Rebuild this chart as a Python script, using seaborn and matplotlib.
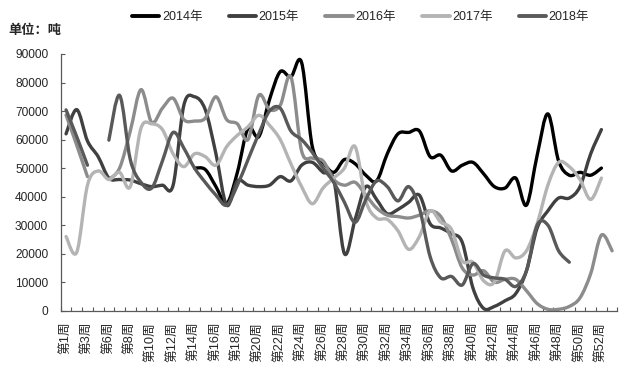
import numpy as np
import pandas as pd
import matplotlib
matplotlib.use("Agg")
import matplotlib.pyplot as plt
from matplotlib.ticker import MultipleLocator, FixedLocator
from matplotlib.path import Path
from matplotlib.patches import PathPatch
import seaborn as sns

nan = np.nan

# weeks on the category axis (week 5 is missing, one extra week at the end)
weeks = [1, 2, 3, 4] + list(range(6, 54))
week_labels = ["第%d周" % w for w in weeks]

years = ["2014年", "2015年", "2016年", "2017年", "2018年"]
colors = ["#000000", "#404040", "#8c8c8c", "#b4b4b4", "#595959"]

v2014 = [nan, nan, nan, nan, nan, nan, nan, nan, nan, nan, nan, nan,
         50000, 49500, 43500, 37500, 48500, 64000, 61000, 74000, 83800, 82000,
         87000, 57500, 52000, 48500, 53000, 51500, 47500, 45500, 55000, 62000,
         62500, 63000, 54000, 54500, 49000, 51000, 52000, 48000, 43500, 43000,
         46500, 37000, 54500, 69000, 52500, 47500, 48500, 47500, 50000, nan]
v2015 = [62000, 70500, 59500, 54000, 46500, 46000, 45800, 44500, 43500, 44000,
         44000, 72000, 75000, 70500, 55000, 37000, 45500, 44000, 43500, 44000,
         47000, 45500, 51000, 52000, 48500, 46000, 20000, 32000, 43500, 39000,
         34000, 35500, 38000, 40500, 30500, 29000, 27000, 24000, 8000, 800,
         1500, 3500, 6000, 14000, 29000, 35000, 39500, 39500, 43500, 55000,
         63500, nan]
v2016 = [68600, 58000, 47000, nan, 46000, 50000, 63000, 77500, 66000, 71000,
         74500, 67000, 66500, 67500, 75000, 67000, 65500, 60000, 75500, 70500,
         72000, 82000, 56000, 53500, 52500, 46000, 44000, 45000, 40500, 36000,
         33500, 33000, 32500, 33500, 35000, 33000, 25000, 15000, 12500, 14000,
         10000, 11000, 11000, 7000, 2500, 500, 500, 1500, 4500, 13000,
         26500, 21000]
v2017 = [26000, 20500, 44000, 49000, 46000, 48500, 43500, 64000, 65500, 63500,
         55000, 50500, 55000, 54000, 51000, 57500, 61500, 64500, 68500, 65000,
         60000, 51500, 43500, 37500, 43000, 46500, 50000, 57500, 38500, 32500,
         32000, 28000, 21500, 26000, 35000, 31000, 28500, 17500, 17000, 10500,
         10000, 21000, 18500, 21000, 30500, 44000, 52000, 50500, 46000, 39000,
         46500, nan]
v2018 = [70400, 61000, 51000, nan, 59800, 75500, 53000, 45000, 43000, 52500,
         62500, 57000, 50000, 45000, 40500, 37000, 44000, 53000, 62000, 70000,
         71000, 63000, 60000, 55500, 50000, 45000, 38000, 31000, 39000, 45500,
         43500, 38500, 43500, 36000, 19000, 11500, 12000, 9000, 16500, 12500,
         11500, 11000, 8500, 14000, 30000, 30000, 21000, 17000, nan, nan,
         nan, nan]

series = [v2014, v2015, v2016, v2017, v2018]

# long table; a new segment starts after every gap so lines break there
rows = []
for year, vals in zip(years, series):
    seg = 0
    for i, v in enumerate(vals):
        if np.isnan(v):
            seg += 1
            continue
        rows.append({"pos": i, "value": v, "year": year, "seg": "%s-%d" % (year, seg)})
df = pd.DataFrame(rows)


def smooth_path(xy):
    # excel style smoothed line: cubic bezier through every point
    pts = np.vstack([xy[:1], xy, xy[-1:]])
    verts = [tuple(xy[0])]
    codes = [Path.MOVETO]
    for k in range(1, len(pts) - 2):
        p0, p1, p2, p3 = pts[k - 1], pts[k], pts[k + 1], pts[k + 2]
        c1 = p1 + (p2 - p0) / 6.0
        c2 = p2 - (p3 - p1) / 6.0
        verts += [tuple(c1), tuple(c2), tuple(p2)]
        codes += [Path.CURVE4] * 3
    return Path(verts, codes)


sns.set_theme(style="white")
plt.rcParams["font.family"] = ["Liberation Sans", "Noto Sans CJK SC", "DejaVu Sans"]

fig = plt.figure(figsize=(6.27, 3.71), dpi=100)
ax = fig.add_axes([0.0968, 0.1625, 0.888, 0.692])

sns.lineplot(data=df, x="pos", y="value", hue="year", units="seg", estimator=None,
             palette=dict(zip(years, colors)), hue_order=years, linewidth=2.4,
             ax=ax, legend=True)

ax.set_xlim(-0.5, len(weeks) - 0.5)
ax.set_ylim(0, 90000)
ax.set_xlabel("")
ax.set_ylabel("")

ax.yaxis.set_major_locator(MultipleLocator(10000))
ax.tick_params(axis="y", which="major", direction="in", length=3, width=0.8,
               color="#595959", labelsize=8.6, pad=9, left=True)
ax.set_yticklabels(["%d" % t for t in ax.get_yticks()])

ax.xaxis.set_major_locator(FixedLocator(list(range(0, len(weeks), 2))))
ax.set_xticklabels(week_labels[::2], rotation=90, fontsize=9.2)
ax.xaxis.set_minor_locator(FixedLocator(np.arange(-0.5, len(weeks), 1.0)))
ax.tick_params(axis="x", which="major", length=0, pad=8)
ax.tick_params(axis="x", which="minor", direction="in", length=3, width=0.8,
               color="#595959", bottom=True)

for side in ["top", "right"]:
    ax.spines[side].set_visible(False)
for side in ["left", "bottom"]:
    ax.spines[side].set_color("#595959")
    ax.spines[side].set_linewidth(0.9)

sns.move_legend(ax, "center", bbox_to_anchor=(0.575, 0.953),
                bbox_transform=fig.transFigure, ncol=5, frameon=False,
                title=None, fontsize=9, handlelength=2.2, handletextpad=0.2,
                columnspacing=2.1)
for line in ax.get_legend().get_lines():
    line.set_linewidth(2.8)

# turn the straight seaborn lines into smoothed curves
for line in list(ax.lines):
    xy = line.get_xydata()
    if len(xy) < 2:
        continue
    patch = PathPatch(smooth_path(xy), fill=False, edgecolor=line.get_color(),
                      linewidth=line.get_linewidth(), capstyle="round",
                      joinstyle="round", zorder=line.get_zorder())
    ax.add_patch(patch)
    line.remove()

fig.text(0.013, 1 - 31 / 371, "单位：吨", fontsize=9.5, fontweight="bold",
         va="center", ha="left")

fig.savefig("out.png", dpi=100)
